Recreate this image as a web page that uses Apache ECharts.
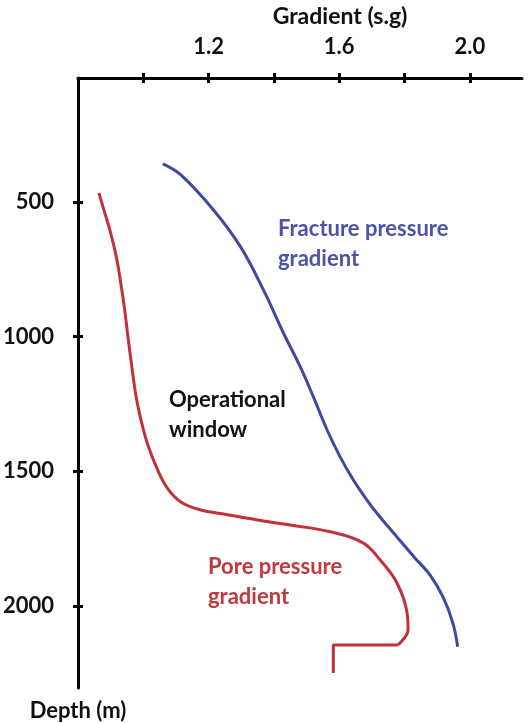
<!DOCTYPE html>
<html>
<head>
<meta charset="utf-8">
<script src="https://cdn.jsdelivr.net/npm/echarts@6/dist/echarts.min.js"></script>
<style>
html,body{margin:0;padding:0;background:#fff;}
#chart{width:528px;height:723px;}
</style>
</head>
<body>
<div id="chart"></div>
<script>
// Gradient (s.g) vs Depth (m)
const fractureGradient = [1.060, 1.115, 1.215, 1.298, 1.368, 1.429, 1.481, 1.521, 1.563, 1.603, 1.643, 1.685, 1.725, 1.777, 1.832, 1.878, 1.918, 1.948, 1.963];
const fractureDepth    = [359,   400,   530,   667,   827,   986,   1113,  1224,  1347,  1447,  1532,  1607,  1670,  1744,  1822,  1885,  1967,  2063,  2152];

const poreGradient = [0.864, 0.882, 0.900, 0.918, 0.931, 0.943, 0.953, 0.965, 0.978, 0.993, 1.012, 1.040, 1.073, 1.115, 1.176, 1.246, 1.350, 1.450, 1.573, 1.673, 1.725, 1.777, 1.808, 1.811, 1.780];
const poreDepth    = [467,   541,   615,   708,   801,   901,   1001,  1113,  1224,  1310,  1395,  1484,  1562,  1614,  1644,  1659,  1681,  1700,  1725,  1766,  1829,  1915,  2026,  2089,  2145];

const poreStepGradient = [1.780, 1.582, 1.582];
const poreStepDepth    = [2145,  2145,  2249];

const xTicks = [1.0, 1.2, 1.4, 1.6, 1.8, 2.0];
const xLabels = [1.2, 1.6, 2.0];
const yTicks = [500, 1000, 1500, 2000];

const zip = (a, b) => a.map((v, i) => [v, b[i]]);

const FONT = 'Lato';
const chart = echarts.init(document.getElementById('chart'));
const axisTxt = {fontFamily: FONT, fontWeight: 'bold', fontSize: 22, color: '#111'};

const xBase = {
  type: 'value', position: 'top', min: 0.8, max: 2.16,
  splitLine: {show: false},
};
const yBase = {
  type: 'value', inverse: true, min: 40, max: 2305,
  splitLine: {show: false},
};

chart.setOption({
  animation: false,
  backgroundColor: '#fff',
  grid: {left: 78, top: 78, right: 6, bottom: 35, containLabel: false, outerBoundsMode: 'none'},
  xAxis: [
    Object.assign({}, xBase, {
      axisLine: {show: true, lineStyle: {color: '#000', width: 3}},
      axisTick: {show: true, inside: false, length: 5, lineStyle: {color: '#000', width: 3}, customValues: xTicks},
      axisLabel: {show: true, margin: 20, customValues: xLabels, formatter: v => v.toFixed(1), ...axisTxt},
    }),
    Object.assign({}, xBase, {
      axisLine: {show: false},
      axisTick: {show: true, inside: true, length: 5, lineStyle: {color: '#000', width: 3}, customValues: xTicks},
      axisLabel: {show: false},
    })
  ],
  yAxis: [
    Object.assign({}, yBase, {
      name: 'Depth (m)', nameLocation: 'end', nameGap: 12,
      nameTextStyle: axisTxt,
      axisLine: {show: true, lineStyle: {color: '#000', width: 3}},
      axisTick: {show: true, inside: false, length: 5, lineStyle: {color: '#000', width: 3}, customValues: yTicks},
      axisLabel: {show: true, margin: 24, customValues: yTicks, formatter: v => String(v), ...axisTxt},
    }),
    Object.assign({}, yBase, {
      position: 'left',
      axisLine: {show: false},
      axisTick: {show: true, inside: true, length: 5, lineStyle: {color: '#000', width: 3}, customValues: yTicks},
      axisLabel: {show: false},
    })
  ],
  series: [
    {
      type: 'line', name: 'Fracture pressure gradient', data: zip(fractureGradient, fractureDepth),
      smooth: 0.4, showSymbol: false, lineStyle: {color: '#3d4a9f', width: 3}
    },
    {
      type: 'line', name: 'Pore pressure gradient', data: zip(poreGradient, poreDepth),
      smooth: 0.4, showSymbol: false, lineStyle: {color: '#c0323a', width: 3}
    },
    {
      type: 'line', name: 'Pore pressure gradient step', data: zip(poreStepGradient, poreStepDepth),
      smooth: false, showSymbol: false, lineStyle: {color: '#c0323a', width: 3}
    }
  ],
  graphic: [
    {type: 'text', x: 340, y: 17, style: {text: 'Gradient (s.g)', font: 'bold 23px ' + FONT, fill: '#111', align: 'center', verticalAlign: 'middle'}},
    {type: 'text', x: 278, y: 229, style: {text: 'Fracture pressure', font: 'bold 22px ' + FONT, fill: '#4a53a8', align: 'left', verticalAlign: 'middle'}},
    {type: 'text', x: 278, y: 259, style: {text: 'gradient', font: 'bold 22px ' + FONT, fill: '#4a53a8', align: 'left', verticalAlign: 'middle'}},
    {type: 'text', x: 169, y: 400, style: {text: 'Operational', font: 'bold 22px ' + FONT, fill: '#111', align: 'left', verticalAlign: 'middle'}},
    {type: 'text', x: 169, y: 430, style: {text: 'window', font: 'bold 22px ' + FONT, fill: '#111', align: 'left', verticalAlign: 'middle'}},
    {type: 'text', x: 208, y: 567, style: {text: 'Pore pressure', font: 'bold 22px ' + FONT, fill: '#c0393e', align: 'left', verticalAlign: 'middle'}},
    {type: 'text', x: 208, y: 597, style: {text: 'gradient', font: 'bold 22px ' + FONT, fill: '#c0393e', align: 'left', verticalAlign: 'middle'}}
  ]
});
</script>
</body>
</html>
